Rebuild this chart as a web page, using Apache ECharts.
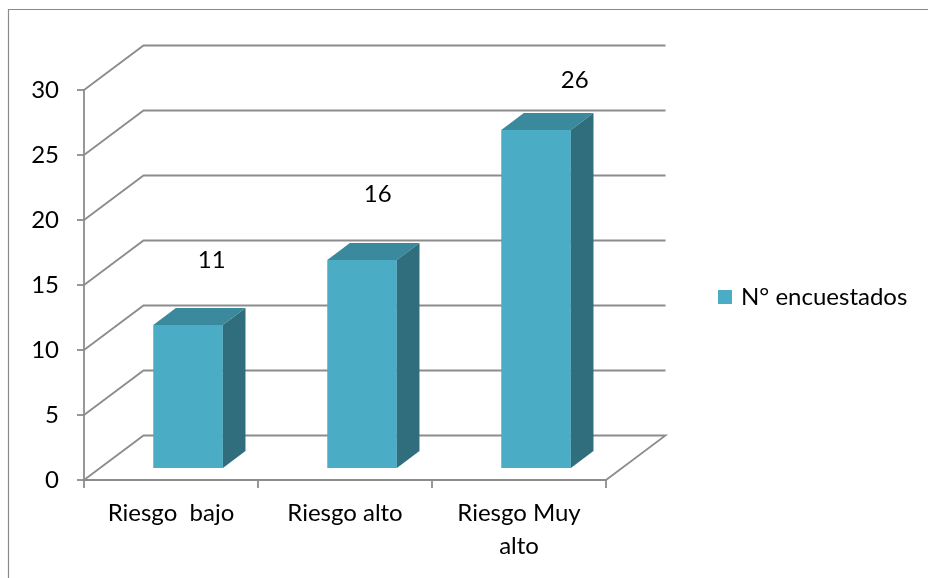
<!DOCTYPE html>
<html>
<head>
<meta charset="utf-8">
<script src="https://cdn.jsdelivr.net/npm/echarts@6/dist/echarts.min.js"></script>
<style>
  html, body { margin: 0; padding: 0; background: #fff; }
  #chart { width: 928px; height: 578px; }
</style>
</head>
<body>
<div id="chart"></div>
<script>
const categories = ['Riesgo  bajo', 'Riesgo alto', 'Riesgo Muy\nalto'];
const seriesName = 'N° encuestados';
const values = [11, 16, 26];
const yTicks = [0, 5, 10, 15, 20, 25, 30];

// Oblique projection of the depth axis: pixel shift for the full floor depth
const DEPTH_X = 59.5, DEPTH_Y = -44.5;
// Bars sit between these depth fractions and take this share of a category band
const BAR_FRONT = 0.27, BAR_BACK = 0.65, BAR_WIDTH = 0.4;
// Hand-placed offsets of the value labels from each bar's top-back centre
const labelShift = [[1, -48], [-7, -49], [16, -33]];

const FONT = 'Lato';
const FONT_SIZE = 24;
const GRID_COLOR = '#8c8c8c';
const FACE = '#4BACC6', TOP = '#3B899D', SIDE = '#316E7D';

const chart = echarts.init(document.getElementById('chart'));

// Side-wall diagonals and back-wall lines for each value tick, plus the floor
function wallItem(params, api) {
  const v = api.value(1);
  const band = api.size([1, 0])[0];
  const p = api.coord([0, v]);
  const left = p[0] - band / 2;
  const right = api.coord([categories.length - 1, v])[0] + band / 2;
  const y = p[1];
  const pts = [[left, y], [left + DEPTH_X, y + DEPTH_Y], [right + DEPTH_X, y + DEPTH_Y]];
  if (v === 0) pts.push([right, y]);
  return {
    type: 'polyline',
    shape: { points: pts },
    style: { stroke: GRID_COLOR, lineWidth: 1.8, fill: null }
  };
}

// A shaded box for one category with its value label above
function barItem(params, api) {
  const i = api.value(0), v = api.value(1);
  const band = api.size([1, 0])[0];
  const w = band * BAR_WIDTH;
  const base = api.coord([i, 0]);
  const top = api.coord([i, v]);
  const fx = BAR_FRONT * DEPTH_X, fy = BAR_FRONT * DEPTH_Y;
  const dx = (BAR_BACK - BAR_FRONT) * DEPTH_X, dy = (BAR_BACK - BAR_FRONT) * DEPTH_Y;
  const x0 = base[0] - w / 2 + fx + 1, x1 = x0 + w;
  const yb = base[1] + fy, yt = top[1] + fy;
  const shift = labelShift[i] || [0, -40];
  return {
    type: 'group',
    children: [
      {
        type: 'rect',
        shape: { x: x0, y: yt, width: w, height: yb - yt },
        style: { fill: FACE }
      },
      {
        type: 'polygon',
        shape: { points: [[x0, yt], [x1, yt], [x1 + dx, yt + dy], [x0 + dx, yt + dy]] },
        style: { fill: TOP }
      },
      {
        type: 'polygon',
        shape: { points: [[x1, yt], [x1 + dx, yt + dy], [x1 + dx, yb + dy], [x1, yb]] },
        style: { fill: SIDE }
      },
      {
        type: 'text',
        style: {
          x: x0 + w / 2 + dx + shift[0],
          y: yt + dy + shift[1],
          text: String(v),
          align: 'center',
          verticalAlign: 'middle',
          fill: '#000',
          font: FONT_SIZE + 'px ' + FONT
        }
      }
    ]
  };
}

chart.setOption({
  animation: false,
  backgroundColor: '#fff',
  textStyle: { fontFamily: FONT },
  graphic: [{
    type: 'rect',
    shape: { x: 8.5, y: 9.5, width: 960, height: 620 },
    style: { fill: null, stroke: '#8a8a8a', lineWidth: 1.2 },
    silent: true
  }],
  grid: { left: 84, right: 322, top: 90, bottom: 98 },
  legend: {
    data: [seriesName],
    left: 718,
    top: 285,
    padding: 0,
    icon: 'rect',
    itemWidth: 14,
    itemHeight: 14,
    textStyle: { fontSize: FONT_SIZE, fontFamily: FONT, color: '#000', padding: [0, 0, 0, 4], lineHeight: 24 }
  },
  xAxis: {
    type: 'category',
    data: categories,
    boundaryGap: true,
    axisLine: { lineStyle: { color: GRID_COLOR, width: 1.8 } },
    axisTick: { show: true, alignWithLabel: false, length: 8, lineStyle: { color: GRID_COLOR, width: 1.8 } },
    axisLabel: { fontSize: FONT_SIZE, fontFamily: FONT, color: '#000', margin: 17, lineHeight: 33, interval: 0 },
    splitLine: { show: false }
  },
  yAxis: {
    type: 'value',
    min: 0,
    max: 30,
    interval: 5,
    axisLine: { show: true, lineStyle: { color: GRID_COLOR, width: 1.8 } },
    axisTick: { show: true, length: 7, lineStyle: { color: GRID_COLOR, width: 1.8 } },
    axisLabel: { fontSize: FONT_SIZE, fontFamily: FONT, color: '#000', margin: 25 },
    splitLine: { show: false }
  },
  series: [
    {
      name: 'walls',
      type: 'custom',
      renderItem: wallItem,
      data: yTicks.map(t => [0, t]),
      encode: { x: 0, y: 1 },
      silent: true,
      z: 1
    },
    {
      name: seriesName,
      type: 'custom',
      renderItem: barItem,
      data: values.map((v, i) => [i, v]),
      encode: { x: 0, y: 1 },
      itemStyle: { color: FACE },
      z: 2
    }
  ]
});
</script>
</body>
</html>
